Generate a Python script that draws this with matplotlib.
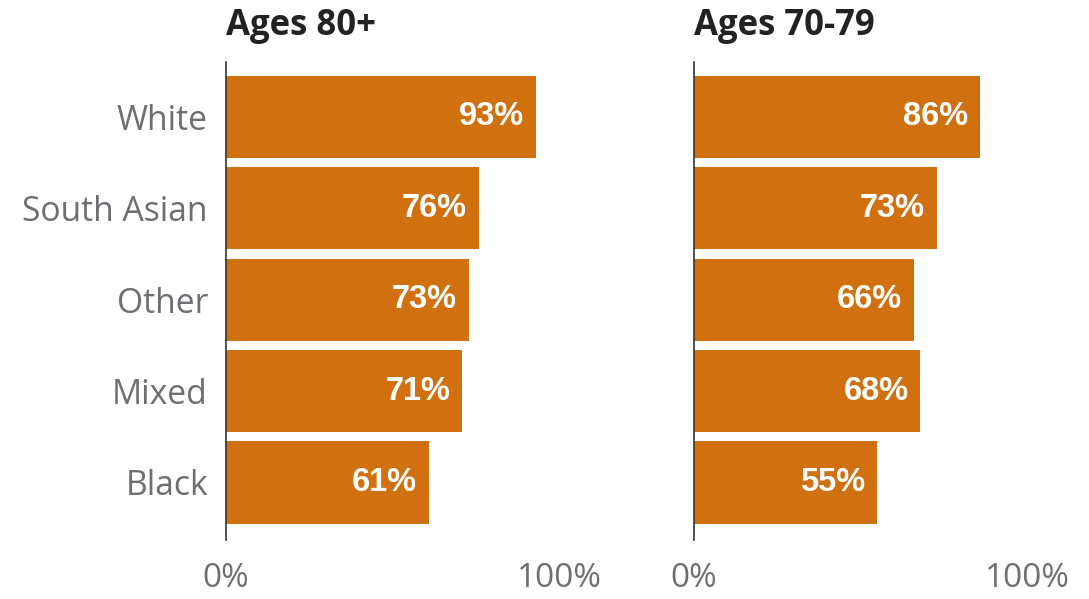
import matplotlib.pyplot as plt

# Vaccine uptake by ethnicity, two age groups
groups = ["White", "South Asian", "Other", "Mixed", "Black"]
ages_80_plus = [93, 76, 73, 71, 61]
ages_70_79 = [86, 73, 66, 68, 55]
panel_titles = ["Ages 80+", "Ages 70-79"]
tick_labels = ["0%", "100%"]

bar_color = "#D1700E"
label_gray = "#6E6E73"

fig = plt.figure(figsize=(10.89, 5.99), dpi=100)

W, H = 1089, 599
panels = [(226, ages_80_plus), (694, ages_70_79)]
ypos = range(len(groups))

for i, (left_px, values) in enumerate(panels):
    ax = fig.add_axes([left_px / W, (H - 540) / H, 333 / W, 478 / H])
    ax.barh(ypos, values, height=0.9, color=bar_color)
    ax.set_xlim(0, 100)
    ax.set_ylim(4.63, -0.6)

    for y, v in zip(ypos, values):
        ax.text(v - 3.6, y, f"{v}%", ha="right", va="center", color="white",
                fontsize=23.5, fontweight="bold", family="Liberation Sans")

    for side in ["top", "right", "bottom"]:
        ax.spines[side].set_visible(False)
    ax.spines["left"].set_color("#333333")
    ax.spines["left"].set_linewidth(1.2)

    ax.set_xticks([0, 100])
    ax.set_xticklabels(tick_labels, fontsize=24, color=label_gray,
                       family="Open Sans")
    ax.tick_params(axis="x", length=0, pad=16)

    ax.set_yticks(list(ypos))
    if i == 0:
        ax.set_yticklabels(groups, fontsize=24.2, color=label_gray,
                           family="Open Sans")
        ax.tick_params(axis="y", length=0, pad=13)
    else:
        ax.set_yticklabels([])
        ax.tick_params(axis="y", length=0)

    fig.text(left_px / W, 1 - 35 / H, panel_titles[i], ha="left", va="baseline",
             fontsize=25, fontweight="bold", color="#222222", family="Open Sans")

fig.savefig("out.png", dpi=100)
